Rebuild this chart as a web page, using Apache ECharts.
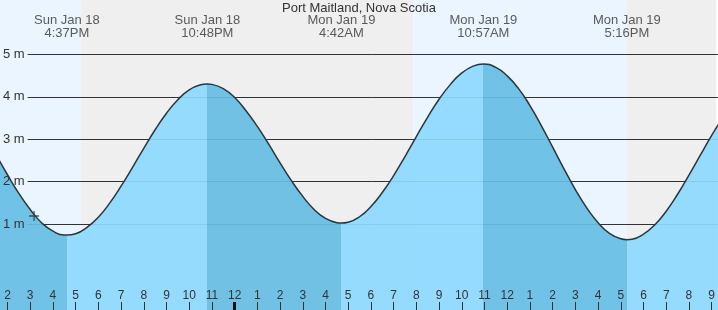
<!DOCTYPE html>
<html>
<head>
<meta charset="utf-8">
<script src="https://cdn.jsdelivr.net/npm/echarts@6/dist/echarts.min.js"></script>
<style>html,body{margin:0;padding:0;background:#fff}#c{width:718px;height:310px}</style>
</head>
<body>
<div id="c"></div>
<script>
// ---- data (hours counted from Sun Jan 18 00:00, heights in metres) ----
const title = 'Port Maitland, Nova Scotia';
const tideHours = [13.5,14,14.5,15,15.5,16,16.5,16.617,17,17.5,18,18.5,19,19.5,20,20.5,21,21.5,22,22.5,22.8,23,23.5,24,24.5,25,25.5,26,26.5,27,27.5,28,28.5,28.7,29,29.5,30,30.5,31,31.5,32,32.5,33,33.5,34,34.5,34.95,35.5,36,36.5,37,37.5,38,38.5,39,39.5,40,40.5,41,41.267,41.5,42,42.5,43,43.5,44,44.5,45,45.5];
const tideHeights = [2.63,2.16,1.72,1.34,1.03,0.83,0.74,0.74,0.77,0.92,1.16,1.49,1.89,2.33,2.78,3.22,3.61,3.93,4.16,4.28,4.30,4.29,4.19,3.98,3.67,3.30,2.88,2.44,2.02,1.65,1.34,1.13,1.03,1.02,1.04,1.17,1.41,1.74,2.14,2.59,3.06,3.52,3.94,4.29,4.56,4.72,4.77,4.69,4.49,4.19,3.79,3.32,2.81,2.30,1.81,1.38,1.03,0.78,0.65,0.63,0.64,0.76,0.98,1.30,1.70,2.15,2.62,3.09,3.51];
const extremeHours = [16.617, 22.8, 28.7, 34.95, 41.267];
const extremeKinds = ['low', 'high', 'low', 'high', 'low'];
const extremeDays = ['Sun Jan 18', 'Sun Jan 18', 'Mon Jan 19', 'Mon Jan 19', 'Mon Jan 19'];
const extremeTimes = ['4:37PM', '10:48PM', '4:42AM', '10:57AM', '5:16PM'];
const bandEdges = [13.5, 17.24, 31.86, 41.26, 45.5];
const bandKinds = ['day', 'night', 'day', 'night'];
const hourTicks = [14,15,16,17,18,19,20,21,22,23,24,25,26,27,28,29,30,31,32,33,34,35,36,37,38,39,40,41,42,43,44,45];
const midnightTicks = [24];
const levelTicks = [1, 2, 3, 4, 5];
const nowPoint = [15.17, 1.19];

// ---- layout / style ----
const X_MIN = 13.671, X_MAX = 45.198;
const Y_MIN = -1.028, Y_MAX = 6.279;
const LABEL_LEVEL = 5.64;
const FONT = 'Liberation Sans, Arial, sans-serif';
const TXT = '#333';
const COL = {day: '#ebf5ff', night: '#efefef', rise: '#8dd9ff', fall: '#66bde4'};

const tideData = tideHours.map((h, i) => [h, tideHeights[i]]);
const bandData = bandKinds.map((k, i) => [bandEdges[i], bandEdges[i + 1], i]);

// colour pieces: falling (towards a low) dark, rising (towards a high) light
const pieces = [];
for (let i = 0; i <= extremeHours.length; i++) {
  const lo = i === 0 ? null : extremeHours[i - 1];
  const hi = i === extremeHours.length ? null : extremeHours[i];
  const nextKind = i < extremeKinds.length ? extremeKinds[i] : (extremeKinds[i - 1] === 'low' ? 'high' : 'low');
  const p = {color: nextKind === 'low' ? COL.fall : COL.rise};
  if (lo !== null) p.gte = lo;
  if (hi !== null) p.lt = hi;
  pieces.push(p);
}

function hourLabel(v) {
  const h = Math.round(v) % 12;
  return String(h === 0 ? 12 : h);
}

const chart = echarts.init(document.getElementById('c'), null, {renderer: 'canvas'});
chart.setOption({
  animation: false,
  backgroundColor: '#fff',
  textStyle: {fontFamily: FONT},
  title: {
    text: title, left: 'center', top: -3,
    textStyle: {fontSize: 13, fontWeight: 'normal', color: TXT, fontFamily: FONT}
  },
  grid: [
    {left: 0, right: 0, top: 0, bottom: 0},
    {left: 26, right: 0, top: 54.4, bottom: 86}
  ],
  xAxis: [
    {
      gridIndex: 0, type: 'value', min: X_MIN, max: X_MAX, z: 6, position: 'bottom',
      axisLine: {show: false, onZero: false}, splitLine: {show: false},
      axisTick: {show: true, inside: true, length: 8, customValues: hourTicks, lineStyle: {color: TXT, width: 1}},
      axisLabel: {show: true, inside: true, margin: 8, customValues: hourTicks, formatter: hourLabel,
        fontSize: 12, color: TXT, fontFamily: FONT, hideOverlap: false}
    },
    {
      gridIndex: 0, type: 'value', min: X_MIN, max: X_MAX, z: 7, position: 'bottom',
      axisLine: {show: false, onZero: false}, splitLine: {show: false}, axisLabel: {show: false},
      axisTick: {show: true, inside: true, length: 8, customValues: midnightTicks, lineStyle: {color: '#111', width: 3}}
    },
    {gridIndex: 1, type: 'value', min: 0, max: 1, show: false}
  ],
  yAxis: [
    {gridIndex: 0, type: 'value', min: Y_MIN, max: Y_MAX, show: false},
    {
      gridIndex: 1, type: 'value', position: 'left', min: levelTicks[0], max: levelTicks[levelTicks.length - 1], interval: 1, z: 1,
      axisLine: {show: false, onZero: false}, axisTick: {show: false}, axisLabel: {show: false},
      splitLine: {show: true, showMinLine: true, showMaxLine: true, lineStyle: {color: '#333', width: 1}}
    },
    {
      gridIndex: 1, type: 'value', position: 'left', min: levelTicks[0], max: levelTicks[levelTicks.length - 1], interval: 1, z: 6,
      axisLine: {show: false, onZero: false}, axisTick: {show: false}, splitLine: {show: false},
      axisLabel: {show: true, margin: 3, formatter: '{value} m', fontSize: 13, color: TXT, fontFamily: FONT}
    }
  ],
  visualMap: {
    show: false, type: 'piecewise', seriesIndex: 1, dimension: 0, pieces: pieces
  },
  series: [
    {
      type: 'custom', xAxisIndex: 0, yAxisIndex: 0, z: 0, silent: true,
      data: bandData,
      encode: {x: [0, 1]},
      renderItem: function (params, api) {
        const cs = params.coordSys;
        let x0 = api.coord([api.value(0), Y_MAX])[0];
        let x1 = api.coord([api.value(1), Y_MAX])[0];
        x0 = Math.max(x0, cs.x); x1 = Math.min(x1, cs.x + cs.width);
        const kind = bandKinds[api.value(2)];
        return {type: 'rect', shape: {x: x0, y: cs.y, width: x1 - x0, height: cs.height},
          style: {fill: COL[kind]}};
      }
    },
    {
      type: 'line', xAxisIndex: 0, yAxisIndex: 0, z: 2,
      data: tideData, smooth: true, showSymbol: false, symbol: 'none',
      lineStyle: {color: '#333', width: 1.5},
      areaStyle: {opacity: 0.92, origin: 'start'}
    },
    {
      type: 'scatter', xAxisIndex: 0, yAxisIndex: 0, z: 5, silent: true,
      data: [nowPoint],
      symbol: 'path://M0,3.5h9v1.2h-9z M3.9,-0.5h1.2v9h-1.2z', symbolSize: 10,
      itemStyle: {color: '#333'}
    },
    {
      type: 'scatter', xAxisIndex: 0, yAxisIndex: 0, z: 5, silent: true,
      data: extremeHours.map((h, i) => [h, LABEL_LEVEL, i]),
      symbolSize: 0,
      label: {
        show: true, position: 'inside', fontSize: 13, lineHeight: 13, color: TXT, fontFamily: FONT,
        formatter: p => extremeDays[p.value[2]] + '\n' + extremeTimes[p.value[2]]
      }
    }
  ]
});
</script>
</body>
</html>
